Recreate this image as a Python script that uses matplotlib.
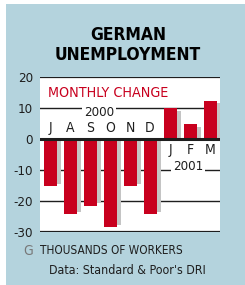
import matplotlib
matplotlib.use('Agg')
import matplotlib.pyplot as plt
import numpy as np
from matplotlib.patches import Rectangle

# Plot configuration parameters
plt.rcParams['font.family'] = ['DejaVu Sans']
plt.rcParams['font.stretch'] = 'condensed'

months = ['J', 'A', 'S', 'O', 'N', 'D', 'J', 'F', 'M']
change = [-15.2, -24.3, -21.5, -28.4, -15.2, -24.3, 9.9, 4.8, 12.3]
yticks = [20, 10, 0, -10, -20, -30]

red = '#c8001e'
blue = '#b4d3dd'
ink = '#1e1e1e'

fig = plt.figure(figsize=(2.45, 2.85), dpi=100)
fig.patches.append(Rectangle((6 / 245, 0), 1, 1 - 4 / 285, transform=fig.transFigure,
                             facecolor=blue, edgecolor='none', zorder=-10))

ax = fig.add_axes([40 / 245, 1 - 232 / 285, 180 / 245, 155 / 285])
ax.set_facecolor('white')
for s in ax.spines.values():
    s.set_visible(False)

x = np.arange(len(change))
vals = np.array(change)
shadow = vals - np.sign(vals) * 0.8
ax.bar(x + 0.2, shadow, width=0.65, color='#c4c4c4', zorder=2)
ax.bar(x, vals, width=0.65, color=red, zorder=3)

for t in yticks:
    lw = 1.0
    z = 1
    if t in (20, -30):
        lw = 1.6
    if t == 0:
        lw = 2.2
        z = 4
    ax.axhline(t, color=ink, lw=lw, zorder=z)

ax.set_xlim(-0.5, len(change) - 0.5)
ax.set_ylim(-30, 20)
ax.set_xticks([])
ax.set_yticks(yticks)
ax.set_yticklabels([str(t) for t in yticks])
ax.tick_params(axis='y', length=0, pad=5, labelsize=9.5, labelcolor=ink)

for i, m in enumerate(months):
    if change[i] < 0:
        ax.text(i, 3.4, m, ha='center', va='center', fontsize=10, color=ink, zorder=5)
    else:
        ax.text(i, -3.7, m, ha='center', va='center', fontsize=10, color=ink, zorder=5)

box = dict(facecolor='white', edgecolor='none', pad=1.5)
ax.text(2.45, 8.6, '2000', ha='center', va='center', fontsize=9.5, color=ink, bbox=box, zorder=5)
ax.text(6.9, -8.8, '2001', ha='center', va='center', fontsize=9.5, color=ink, bbox=box, zorder=5)
ax.text(-0.1, 14.7, 'MONTHLY CHANGE', ha='left', va='center', fontsize=10.3, color=red, zorder=5)

fig.text(0.522, 1 - 34.5 / 285, 'GERMAN', ha='center', va='center', fontsize=12.5,
         fontweight='bold', color='black')
fig.text(0.522, 1 - 55.5 / 285, 'UNEMPLOYMENT', ha='center', va='center', fontsize=12.5,
         fontweight='bold', color='black')

fig.text(23 / 245, 1 - 251 / 285, 'G', ha='left', va='center', fontsize=10,
         color='#777777', fontweight='light')
fig.text(40 / 245, 1 - 251 / 285, 'THOUSANDS OF WORKERS', ha='left', va='center',
         fontsize=8.5, color=ink)
fig.text(49 / 245, 1 - 270.5 / 285, "Data: Standard & Poor's DRI", ha='left', va='center',
         fontsize=8.9, color=ink)

fig.savefig('out.png', dpi=100)
